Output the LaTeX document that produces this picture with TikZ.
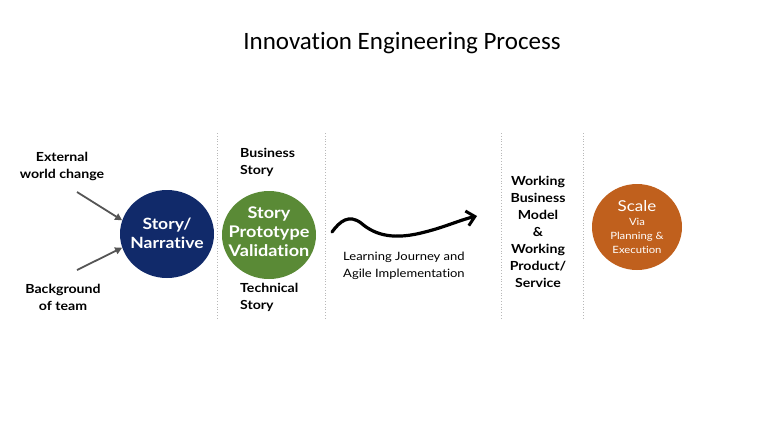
\documentclass[tikz,border=0pt]{standalone}
\usepackage{fontspec}
\setmainfont[FakeStretch=1.13,Ligatures=NoCommon]{Lato}
\newfontfamily\titlefont[Ligatures=NoCommon]{Carlito}
\usetikzlibrary{shapes.geometric,arrows.meta}
\definecolor{navy}{HTML}{112A6A}
\definecolor{leaf}{HTML}{5A8A36}
\definecolor{rust}{HTML}{C0601D}
\definecolor{arrowgray}{HTML}{555555}
\definecolor{divgray}{HTML}{B8B8B8}
\tikzset{
  bubble/.style={ellipse, minimum width=94pt, minimum height=88pt, inner sep=0pt},
  bubbletext/.style={text=white, align=center, inner sep=0pt},
  lbl/.style={font=\bfseries\fontsize{12.5}{17}\selectfont, inner sep=0pt},
  divider/.style={divgray, line width=0.8pt, dotted},
  feed/.style={arrowgray, line width=1.8pt, -{Triangle[length=7pt,width=7pt]}},
}
\begin{document}
\begin{tikzpicture}[x=1pt,y=-1pt]
\useasboundingbox (0,0) rectangle (768,432);
\node[font=\titlefont\fontsize{25}{28}\selectfont] (title) at (402,43) {Innovation Engineering Process};

% dividers
\foreach \x/\n in {217/d1,325/d2,501/d3,583/d4}{
  \coordinate (\n t) at (\x,133);
  \coordinate (\n b) at (\x,319);
  \draw[divider] (\n t) -- (\n b);
}

% circles
\node[bubble, fill=navy] (story) at (167,234) {};
\node[bubbletext, font=\bfseries\fontsize{15.5}{19}\selectfont] (storyt) at (167,233) {Story/\\Narrative};
\node[bubble, fill=leaf] (proto) at (269,235) {};
\node[bubbletext, font=\bfseries\fontsize{16}{19}\selectfont] (protot) at (269,232) {Story\\Prototype\\Validation};
\node[bubble, fill=rust, minimum width=90pt, minimum height=86pt] (scale) at (637,227) {};
\node[bubbletext, font=\fontsize{15}{18}\selectfont] (scalet) at (637,206) {Scale};
\node[bubbletext, font=\fontsize{10}{14}\selectfont] (scalesub) at (637,236) {Via\\Planning \&\\Execution};

% inputs
\node[lbl, align=center] (ext) at (62,166) {External\\world change};
\node[lbl, align=center] (bg) at (63,297) {Background\\of team};
\coordinate (extarr) at (77,192);
\coordinate (bgarr) at (77,270);
\draw[feed] (extarr) -- (story.163);
\draw[feed] (bgarr) -- (story.197);

% stories
\node[lbl, align=left, anchor=west] (bus) at (240,162) {Business\\Story};
\node[lbl, align=left, anchor=west] (tech) at (240,297) {Technical\\Story};

% learning journey
\coordinate (wstart) at (332,232);
\coordinate (wend) at (477,216);
\draw[line width=3.2pt, line cap=round, -{Straight Barb[length=8pt,width=15pt,line width=3pt]}]
  (wstart) .. controls (340,221) and (349,214) .. (361,223)
  .. controls (376,236) and (395,240) .. (425,232)
  .. controls (445,227) and (460,220) .. (wend);
\node[font=\fontsize{11.5}{17}\selectfont, align=left, anchor=west, inner sep=0pt] (learn) at (343,266) {Learning Journey and\\Agile Implementation};

% working model
\node[lbl, align=center] (work) at (538,232) {Working\\Business\\Model\\\&\\Working\\Product/\\Service};
\end{tikzpicture}
\end{document}
